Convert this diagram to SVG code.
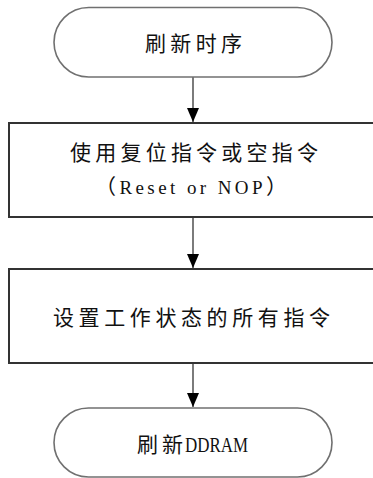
<svg xmlns="http://www.w3.org/2000/svg" width="373" height="478" viewBox="0 0 373 478">
<defs>
<style>
.term{fill:#fff;stroke:#707070;stroke-width:1.6}
.box{fill:#fff;stroke:#333;stroke-width:2}
.edge{stroke:#444;stroke-width:1.4;fill:none}
.cn{font-family:"Noto Sans CJK SC","Noto Sans",sans-serif;font-size:21px;fill:#111}
.lat{font-family:"Liberation Serif",serif;font-size:19px;fill:#111}
</style>
<marker id="ah" markerWidth="14" markerHeight="12" refX="14" refY="6" orient="auto" markerUnits="userSpaceOnUse" viewBox="0 0 14 12">
<path d="M0,0 L14,6 L0,12 Z" fill="#000"/>
</marker>
</defs>
<rect width="373" height="478" fill="#fff"/>
<g id="connectors">
<line class="edge" x1="193" y1="77" x2="193" y2="122" marker-end="url(#ah)"/>
<line class="edge" x1="193" y1="217" x2="193" y2="268" marker-end="url(#ah)"/>
<line class="edge" x1="193" y1="363" x2="193" y2="407" marker-end="url(#ah)"/>
</g>
<g id="start">
<rect class="term" x="54" y="7.5" width="278" height="69.5" rx="34.75"/>
<text class="cn" x="145" y="51" textLength="97" lengthAdjust="spacing">刷新时序</text>
</g>
<g id="reset">
<rect class="box" x="9" y="123" width="370" height="94"/>
<text class="cn" x="70" y="160" textLength="248" lengthAdjust="spacing">使用复位指令或空指令</text>
<text x="95" y="194" textLength="192" lengthAdjust="spacing"><tspan class="cn">（</tspan><tspan class="lat">Reset or NOP</tspan><tspan class="cn">）</tspan></text>
</g>
<g id="setup">
<rect class="box" x="9" y="269" width="370" height="94"/>
<text class="cn" x="53" y="325" textLength="277" lengthAdjust="spacing">设置工作状态的所有指令</text>
</g>
<g id="end">
<rect class="term" x="54" y="408" width="278" height="69" rx="34.5"/>
<text class="cn" x="137" y="452" textLength="46" lengthAdjust="spacing">刷新</text>
<text class="lat" x="185" y="452" textLength="63" lengthAdjust="spacingAndGlyphs" style="font-size:21px">DDRAM</text>
</g>
</svg>
